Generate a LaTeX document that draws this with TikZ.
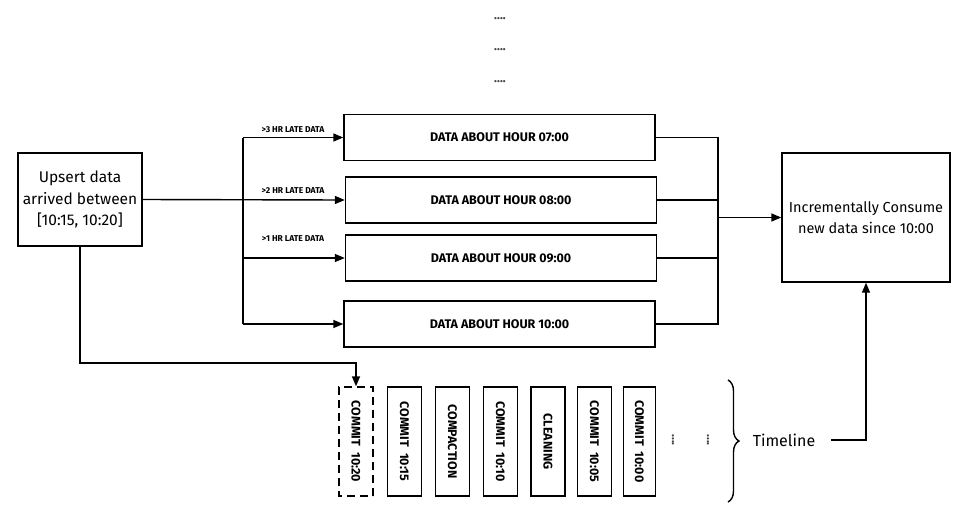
\documentclass[tikz,border=0pt]{standalone}
\usepackage{fontspec}
\setmainfont{Fira Sans}
\usetikzlibrary{arrows.meta,decorations.pathreplacing}
\begin{document}
\begin{tikzpicture}[x=1pt,y=-1pt,line width=1.4pt,
  arr/.style={-{Triangle[length=10pt,width=8pt]}},
  txtbox/.style={draw,align=center,inner sep=2pt},
  hourbox/.style={draw,minimum width=311pt,minimum height=46pt,inner sep=0pt,font=\bfseries\fontsize{12.5}{14}\selectfont},
  commitbox/.style={draw,rotate=-90,minimum width=109pt,minimum height=34pt,inner sep=0pt,font=\bfseries\fontsize{12.5}{14}\selectfont},
  latelbl/.style={font=\bfseries\fontsize{8.5}{10}\selectfont,inner sep=0pt},
  dots/.style={font=\bfseries\fontsize{12}{12}\selectfont,inner sep=0pt,text=black!75}]
\useasboundingbox (0,0) rectangle (962,512);
\fill[white] (0,0) rectangle (962,512);
% top dots
\node[dots] (d1) at (500,19) {....};
\node[dots] (d2) at (500,50) {....};
\node[dots] (d3) at (500,82) {....};
% left box
\node[txtbox,minimum width=124pt,minimum height=93pt,font=\fontsize{15.5}{21.5}\selectfont] (up) at (80,199.5) {Upsert data\\arrived between\\{[}10:15, 10:20{]}};
% hour boxes
\node[hourbox] (h07) at (499.5,137.5) {DATA ABOUT HOUR 07:00};
\node[hourbox] (h08) at (501,200) {DATA ABOUT HOUR 08:00};
\node[hourbox] (h09) at (501,258) {DATA ABOUT HOUR 09:00};
\node[hourbox] (h10) at (499.5,324) {DATA ABOUT HOUR 10:00};
% right box
\node[txtbox,minimum width=168pt,minimum height=129pt,font=\fontsize{14.5}{21}\selectfont] (cons) at (866,217.5) {Incrementally Consume\\new data since 10:00};
% late labels
\node[latelbl] (l3) at (293,130) {>3 HR LATE DATA};
\node[latelbl] (l2) at (293,191) {>2 HR LATE DATA};
\node[latelbl] (l1) at (293,239) {>1 HR LATE DATA};
% left bus
\coordinate (b1) at (243,137.5);
\coordinate (b4) at (243,324);
\draw (b1) -- (b4);
\draw[arr] (up.east) -- (h08.west);
\draw[arr] (b1) -- (h07.west);
\draw[arr] (b4 |- h09.west) -- (h09.west);
\draw[arr] (b4) -- (h10.west);
% right bus
\coordinate (r1) at (718,137.5);
\coordinate (r4) at (718,324);
\draw (h07.east) -- (r1) -- (r4) -- (h10.east);
\draw (h08.east) -- (h08.east -| r1);
\draw (h09.east) -- (h09.east -| r1);
\draw[arr] (r1 |- cons.west) -- (cons.west);
% commit boxes
\node[commitbox,dash pattern=on 8pt off 5pt] (c1) at (356,441.5) {COMMIT\ \ 10:20};
\node[commitbox] (c2) at (404.5,441.5) {COMMIT\ \ 10:15};
\node[commitbox] (c3) at (452.5,441.5) {COMPACTION};
\node[commitbox] (c4) at (500.5,441.5) {COMMIT\ \ 10:10};
\node[commitbox] (c5) at (548,441.5) {CLEANING};
\node[commitbox] (c6) at (594.5,441.5) {COMMIT\ \ 10:05};
\node[commitbox,minimum height=32pt] (c7) at (639.5,441.5) {COMMIT\ \ 10:00};
\node[dots,rotate=-90] (v1) at (673,440) {....};
\node[dots,rotate=-90] (v2) at (708,440) {....};
% upsert to commit
\coordinate (turn) at (356,363);
\draw[arr] (up.south) |- (turn) -- (c1.west);
% timeline brace
\draw[decorate,decoration={brace,amplitude=11pt}] (728,380) -- (728,502);
\node[font=\fontsize{16}{18}\selectfont,inner sep=0pt] (tl) at (784,440) {Timeline};
\draw[arr] ([xshift=15pt]tl.east) -| (cons.south);
\end{tikzpicture}
\end{document}
